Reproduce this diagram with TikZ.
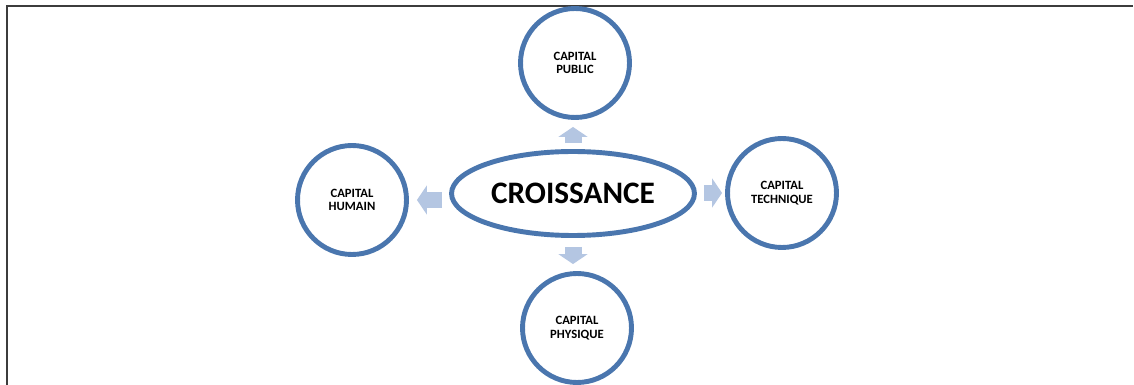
\documentclass[tikz,border=0pt]{standalone}
\usepackage{fontspec}
\setmainfont{Carlito}
\usepackage{tikz}
\usetikzlibrary{shapes.geometric, arrows.meta}
\definecolor{myblue}{RGB}{74,118,174}
\definecolor{myarrow}{RGB}{180,198,226}
\definecolor{myframe}{RGB}{60,60,60}
\tikzset{
  capnode/.style={circle, draw=myblue, fill=white, line width=2.8pt,
    minimum size=2.18cm, inner sep=0pt, align=center,
    font=\bfseries\fontsize{7.2}{7.6}\selectfont},
  croisnode/.style={ellipse, draw=myblue, fill=white, line width=2.8pt,
    minimum width=4.86cm, minimum height=1.68cm, inner sep=0pt,
    font=\bfseries\fontsize{17.8}{20}\selectfont},
  bigarrow/.style={color=myarrow, line width=0.34cm,
    -{Triangle[length=0.2cm, width=0.58cm]}},
  frame/.style={line width=0.85pt, color=myframe}
}
\begin{document}
\begin{tikzpicture}[x=0.02cm, y=-0.02cm]
  \useasboundingbox (0,0) rectangle (1134,385);
  % Frame
  \draw[frame] (7,385) -- (7,6) -- (1133,6);
  % Centre
  \node[croisnode] (crois) at (573,193.5) {CROISSANCE};
  % Capitals
  \node[capnode] (pub) at (575,63) {CAPITAL\\PUBLIC};
  \node[capnode] (hum) at (352,200) {CAPITAL\\HUMAIN};
  \node[capnode] (tech) at (782,193) {CAPITAL\\TECHNIQUE};
  \node[capnode] (phys) at (577,328) {CAPITAL\\PHYSIQUE};
  % Arrows
  \draw[bigarrow, shorten <=0.12cm, shorten >=0.14cm] (crois.north) -- (crois.north |- pub.south);
  \draw[bigarrow, shorten <=0.14cm, shorten >=0.16cm] (crois.west |- hum.east) -- (hum.east);
  \draw[bigarrow, shorten <=0.14cm, shorten >=0.06cm] (crois.east |- tech.west) -- (tech.west);
  \draw[bigarrow, shorten <=0.18cm, shorten >=0.14cm] (crois.south) -- (crois.south |- phys.north);
\end{tikzpicture}
\end{document}
